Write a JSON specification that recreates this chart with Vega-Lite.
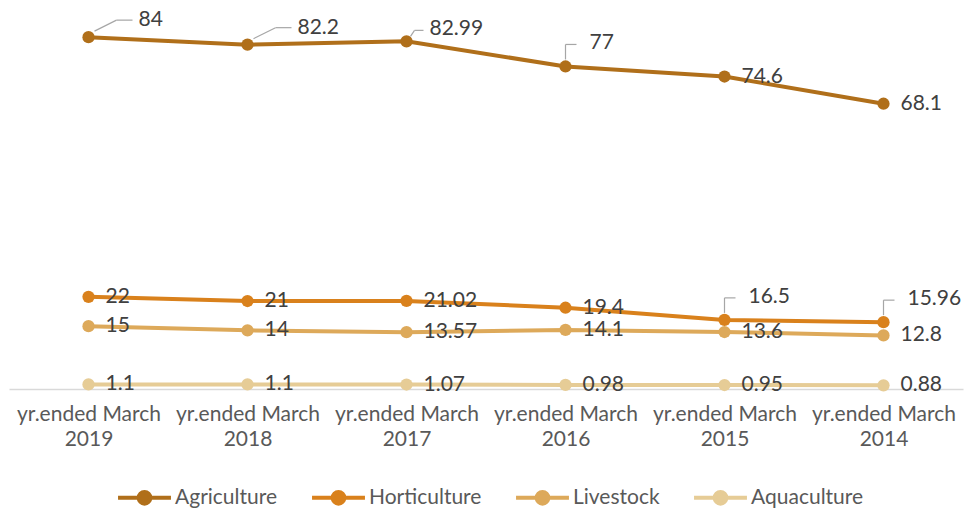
{
  "$schema": "https://vega.github.io/schema/vega-lite/v6.json",
  "width": 954,
  "height": 377,
  "autosize": {"type": "none"},
  "padding": {"left": 9, "top": 12, "right": 3, "bottom": 120},
  "background": "white",
  "config": {
    "view": {"stroke": null},
    "font": "Lato",
    "text": {"font": "Lato"}
  },
  "data": {
    "values": [
      {"year": "2019", "series": "Agriculture", "value": 84},
      {"year": "2018", "series": "Agriculture", "value": 82.2},
      {"year": "2017", "series": "Agriculture", "value": 82.99},
      {"year": "2016", "series": "Agriculture", "value": 77},
      {"year": "2015", "series": "Agriculture", "value": 74.6},
      {"year": "2014", "series": "Agriculture", "value": 68.1},
      {"year": "2019", "series": "Horticulture", "value": 22},
      {"year": "2018", "series": "Horticulture", "value": 21},
      {"year": "2017", "series": "Horticulture", "value": 21.02},
      {"year": "2016", "series": "Horticulture", "value": 19.4},
      {"year": "2015", "series": "Horticulture", "value": 16.5},
      {"year": "2014", "series": "Horticulture", "value": 15.96},
      {"year": "2019", "series": "Livestock", "value": 15},
      {"year": "2018", "series": "Livestock", "value": 14},
      {"year": "2017", "series": "Livestock", "value": 13.57},
      {"year": "2016", "series": "Livestock", "value": 14.1},
      {"year": "2015", "series": "Livestock", "value": 13.6},
      {"year": "2014", "series": "Livestock", "value": 12.8},
      {"year": "2019", "series": "Aquaculture", "value": 1.1},
      {"year": "2018", "series": "Aquaculture", "value": 1.1},
      {"year": "2017", "series": "Aquaculture", "value": 1.07},
      {"year": "2016", "series": "Aquaculture", "value": 0.98},
      {"year": "2015", "series": "Aquaculture", "value": 0.95},
      {"year": "2014", "series": "Aquaculture", "value": 0.88}
    ]
  },
  "encoding": {
    "x": {
      "field": "year",
      "type": "ordinal",
      "sort": ["2019", "2018", "2017", "2016", "2015", "2014"],
      "scale": {"type": "point", "padding": 0.5},
      "axis": {
        "title": null,
        "labelAngle": 0,
        "ticks": false,
        "domainColor": "#d9d9d9",
        "domainWidth": 1.5,
        "labelFontSize": 21,
        "labelColor": "#595959",
        "labelPadding": 14,
        "labelLineHeight": 25,
        "labelExpr": "['yr.ended March', datum.label]"
      }
    },
    "y": {
      "field": "value",
      "type": "quantitative",
      "scale": {"domain": [0, 90], "nice": false},
      "axis": null
    }
  },
  "layer": [
    {
      "mark": {"type": "line", "strokeWidth": 4, "point": {"filled": true, "size": 150}},
      "encoding": {
        "color": {
          "field": "series",
          "type": "nominal",
          "scale": {
            "domain": ["Agriculture", "Horticulture", "Livestock", "Aquaculture"],
            "range": ["#B06F1A", "#D9811C", "#DDA95A", "#E6CC96"]
          },
          "legend": {
            "title": null,
            "orient": "none",
            "legendX": 107,
            "legendY": 457,
            "direction": "horizontal",
            "labelFontSize": 21,
            "labelColor": "#595959",
            "labelOffset": 2,
            "columnPadding": 26,
            "symbolType": "M-1,0H-0.22A0.22,0.22,0,1,1,0.22,0A0.22,0.22,0,1,1,-0.22,0M0.22,0H1",
            "symbolSize": 2800,
            "symbolStrokeWidth": 4,
            "encode": {
              "symbols": {"update": {"fill": {"scale": "color", "field": "value"}}}
            }
          }
        }
      }
    },
    {
      "transform": [
        {"filter": "!(datum.series == 'Agriculture' && datum.year >= '2016') && !(datum.series == 'Horticulture' && datum.year <= '2015')"}
      ],
      "mark": {"type": "text", "align": "left", "baseline": "middle", "dx": 17, "fontSize": 21, "color": "#404040"},
      "encoding": {"text": {"field": "value", "type": "quantitative"}}
    },
    {
      "transform": [
        {"filter": "(datum.series == 'Agriculture' && datum.year == '2016') || (datum.series == 'Horticulture' && datum.year <= '2015')"}
      ],
      "mark": {"type": "text", "align": "left", "baseline": "middle", "dx": 24, "dy": -23, "fontSize": 21, "color": "#404040"},
      "encoding": {"text": {"field": "value", "type": "quantitative"}}
    },
    {
      "transform": [
        {"filter": "datum.series == 'Agriculture' && datum.year == '2017'"}
      ],
      "mark": {"type": "text", "align": "left", "baseline": "middle", "dx": 23, "dy": -12, "fontSize": 21, "color": "#404040"},
      "encoding": {"text": {"field": "value", "type": "quantitative"}}
    },
    {
      "transform": [
        {"filter": "datum.series == 'Agriculture' && (datum.year == '2019' || datum.year == '2018')"}
      ],
      "mark": {"type": "text", "align": "left", "baseline": "middle", "dx": 50, "dy": -17, "fontSize": 21, "color": "#404040"},
      "encoding": {"text": {"field": "value", "type": "quantitative"}}
    },
    {
      "transform": [
        {"filter": "(datum.series == 'Agriculture' && datum.year == '2016') || (datum.series == 'Horticulture' && datum.year <= '2015')"}
      ],
      "mark": {"type": "rule", "color": "#a6a6a6", "strokeWidth": 1.2, "yOffset": -7, "y2Offset": -22},
      "encoding": {"y2": {"field": "value"}}
    },
    {
      "transform": [
        {"filter": "(datum.series == 'Agriculture' && datum.year == '2016') || (datum.series == 'Horticulture' && datum.year <= '2015')"}
      ],
      "mark": {"type": "rule", "color": "#a6a6a6", "strokeWidth": 1.2, "yOffset": -22, "x2Offset": 11},
      "encoding": {"x2": {"field": "year"}}
    },
    {
      "transform": [
        {"filter": "datum.series == 'Agriculture' && datum.year == '2017'"}
      ],
      "mark": {"type": "rule", "color": "#a6a6a6", "strokeWidth": 1.2, "xOffset": 4, "yOffset": -5, "x2Offset": 8, "y2Offset": -11},
      "encoding": {"x2": {"field": "year"}, "y2": {"field": "value"}}
    },
    {
      "transform": [
        {"filter": "datum.series == 'Agriculture' && datum.year == '2017'"}
      ],
      "mark": {"type": "rule", "color": "#a6a6a6", "strokeWidth": 1.2, "xOffset": 8, "yOffset": -11, "x2Offset": 17},
      "encoding": {"x2": {"field": "year"}}
    },
    {
      "transform": [
        {"filter": "datum.series == 'Agriculture' && (datum.year == '2019' || datum.year == '2018')"}
      ],
      "mark": {"type": "rule", "color": "#a6a6a6", "strokeWidth": 1.2, "xOffset": 6, "yOffset": -6, "x2Offset": 28, "y2Offset": -17},
      "encoding": {"x2": {"field": "year"}, "y2": {"field": "value"}}
    },
    {
      "transform": [
        {"filter": "datum.series == 'Agriculture' && (datum.year == '2019' || datum.year == '2018')"}
      ],
      "mark": {"type": "rule", "color": "#a6a6a6", "strokeWidth": 1.2, "xOffset": 28, "yOffset": -17, "x2Offset": 44},
      "encoding": {"x2": {"field": "year"}}
    }
  ]
}
